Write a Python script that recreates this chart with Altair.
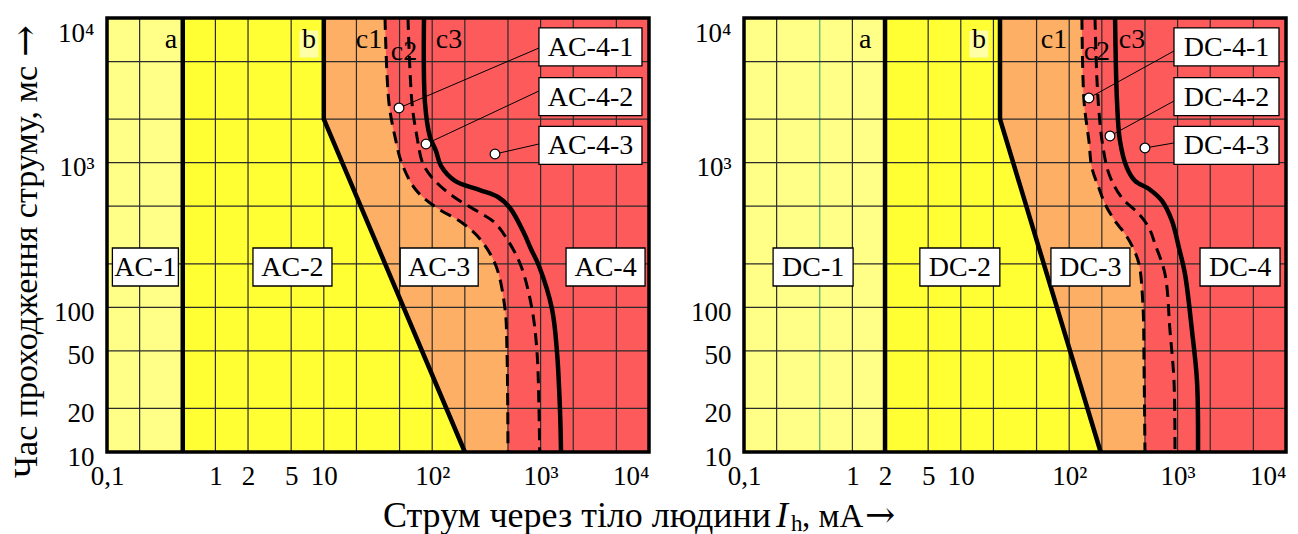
import altair as alt
import pandas as pd

FONT = "Liberation Serif"
ARROW_FONT = "DejaVu Serif"
LIGHT_YELLOW = "#FFFF88"
PALE_YELLOW = "#FFFFA8"
YELLOW = "#FFFF33"
ORANGE = "#FDAF66"
RED = "#FD5B5B"
GRID = "#2b2b2b"
GREEN_GRID = "#4caf7a"

# Shared log axes: current (mA) and duration (ms)
X_GRID = [0.1, 0.2, 0.5, 1, 2, 5, 10, 20, 50, 100, 200, 500, 1000, 2000, 5000, 10000]
Y_GRID = [10, 20, 50, 100, 200, 500, 1000, 2000, 5000, 10000]
X_TICKS = [0.1, 1, 2, 5, 10, 100, 1000, 10000]
Y_TICKS = [10, 20, 50, 100, 1000, 10000]

Y_TITLE = ["Час проходження струму, мс", "→"]
X_TITLE = ["Струм через тіло людини", "I", "h", ", мА", "→"]

# ---- AC (15-100 Hz) zones ----
AC_A = 0.5
AC_B_I = [10, 10, 200]
AC_B_T = [10000, 2000, 10]
AC_C1_I = [36.7, 39.9, 45.4, 52.7, 70.9, 110.7, 184.4, 276, 387.8, 469.4, 489.8, 500]
AC_C1_T = [10000, 2588, 1507, 980, 647, 486, 389, 297, 193, 97.5, 49, 10]
AC_C2_I = [59.8, 65.1, 72.4, 82.3, 106.1, 158.9, 259, 371.7, 489.8, 659.6, 833, 926.5, 966.6, 980]
AC_C2_T = [10000, 2588, 1507, 980, 748, 579, 463, 389, 297, 193, 97.5, 49, 19.5, 10]
AC_C3_I = [84.0, 85.8, 95.4, 108.4, 120.6, 162.3, 276, 404.6, 522, 688, 815, 966.6, 1274, 1417, 1510, 1543]
AC_C3_T = [10000, 2588, 1507, 1205, 949, 748, 647, 579, 486, 337, 253, 193, 97.5, 49, 19.5, 10]
AC_ZONES = ["AC-1", "AC-2", "AC-3", "AC-4"]
AC_ZONE_I = [0.226, 5.14, 116, 3973]
AC_SUBS = ["AC-4-1", "AC-4-2", "AC-4-3"]
AC_SUB_PT_I = [49.4, 87.7, 379.6]
AC_SUB_PT_T = [2388, 1346, 1148]
AC_LEAD_I = [966.6, 966.6, 966.6]
AC_LEAD_T = [6204, 3130, 1346]
AC_SUB_BOX_I = [2884, 2884, 2884]
AC_LETTERS = ["a", "b", "c1", "c2", "c3"]
AC_LETTER_I = [0.389, 7.3, 26.1, 55, 143]

# ---- DC zones ----
DC_A = 2
DC_B_I = [23, 23, 195]
DC_B_T = [10000, 2000, 10]
DC_C1_I = [131, 137, 152, 162, 188, 214, 265, 327, 380, 440, 480, 490, 500]
DC_C1_T = [10000, 2669, 1413, 919, 668, 518, 395, 322, 266, 200, 99, 40.6, 10]
DC_C2_I = [173, 180, 188, 201, 233, 307, 440, 545, 619, 765, 851, 926, 946]
DC_C2_T = [10000, 3847, 2277, 1413, 835, 570, 442, 354, 274, 170, 68.7, 31, 10]
DC_C3_I = [265, 276, 294, 341, 405, 545, 718, 888, 1030, 1170, 1358, 1510, 1543]
DC_C3_T = [10000, 2669, 1413, 919, 748, 658, 544, 395, 257, 170, 68.7, 31, 10]
DC_ZONES = ["DC-1", "DC-2", "DC-3", "DC-4"]
DC_ZONE_I = [0.434, 9.8, 157, 3767]
DC_SUBS = ["DC-4-1", "DC-4-2", "DC-4-3"]
DC_SUB_PT_I = [152, 237.9, 500]
DC_SUB_PT_T = [2800, 1529, 1264]
DC_LEAD_I = [926.5, 926.5, 926.5]
DC_LEAD_T = [5916, 2669, 1368]
DC_SUB_BOX_I = [2825, 2825, 2825]
DC_LETTERS = ["a", "b", "c1", "c2", "c3"]
DC_LETTER_I = [1.31, 14.7, 72.4, 180, 379]

ZONE_T = [190, 190, 190, 190]
SUB_BOX_T = [6310, 2865, 1315]
LETTER_T = [6607, 6607, 6607, 5460, 6607]

XS = alt.Scale(type="log", domain=[X_GRID[0], X_GRID[-1]], nice=False)
YS = alt.Scale(type="log", domain=[Y_GRID[0], Y_GRID[-1]], nice=False)

X_LABELS = ("datum.value < 0.5 ? '0,1' : datum.value >= 10000 ? '10⁴' : "
            "datum.value >= 1000 ? '10³' : datum.value >= 100 ? '10²' : '' + datum.value")
Y_LABELS = "datum.value >= 10000 ? '10⁴' : datum.value >= 1000 ? '10³' : '' + datum.value"

XAX = alt.Axis(
    values=X_TICKS, title=None, grid=False, ticks=False, domain=False,
    labelExpr=X_LABELS, labelFont=FONT, labelFontSize=27, labelColor="black",
    labelPadding=11, labelFlush=False, labelOverlap=False,
    labelAlign={"condition": {"test": "datum.value >= 10000", "value": "right"}, "value": "center"},
)
YAX = alt.Axis(
    values=Y_TICKS, title=None, grid=False, ticks=False, domain=False,
    labelExpr=Y_LABELS, labelFont=FONT, labelFontSize=27, labelColor="black",
    labelPadding=13, labelOverlap=False,
    labelOffset={"condition": {"test": "datum.value >= 10000", "value": 15}, "value": 5},
)

W, H = 542, 434


def box_path(w, h):
    return f"M{-w / 2},{-h / 2}H{w / 2}V{h / 2}H{-w / 2}Z"


def curve(i_vals, t_vals):
    return pd.DataFrame({"I": i_vals, "t": t_vals, "k": list(range(len(i_vals)))})


def xq(field="I"):
    return alt.X(f"{field}:Q", scale=XS, axis=XAX)


def yq(field="t"):
    return alt.Y(f"{field}:Q", scale=YS, axis=YAX)


def title_text(text, x, y, size, font=FONT, **kw):
    return alt.Chart(pd.DataFrame({"s": [0]})).mark_text(
        text=text, font=font, fontSize=size, color="black", **kw
    ).encode(x=alt.value(x), y=alt.value(y))


def panel(a_val, b, c1, c2, c3, zones, zone_i, zone_w, subs, sub_pt, lead, sub_box_i,
          letters, letter_i, sub_w, green_at=None, with_titles=False):
    frame_df = pd.DataFrame({"x0": [X_GRID[0]], "x1": [X_GRID[-1]],
                             "y0": [Y_GRID[0]], "y1": [Y_GRID[-1]]})
    base_red = alt.Chart(frame_df).mark_rect(color=RED).encode(
        x=xq("x0"), x2="x1", y=yq("y0"), y2="y1")

    c1_df = curve(*c1)
    orange = alt.Chart(c1_df).mark_area(
        orient="horizontal", interpolate="catmull-rom", color=ORANGE, clip=True
    ).encode(x=xq(), x2=alt.datum(X_GRID[0]), y=yq())

    b_df = curve(*b)
    yellow = alt.Chart(b_df).mark_area(orient="horizontal", color=YELLOW).encode(
        x=xq(), x2=alt.datum(X_GRID[0]), y=yq())

    ly_df = pd.DataFrame({"x0": [X_GRID[0]], "x1": [a_val],
                          "y0": [Y_GRID[0]], "y1": [Y_GRID[-1]]})
    light = alt.Chart(ly_df).mark_rect(color=LIGHT_YELLOW).encode(
        x=xq("x0"), x2="x1", y=yq("y0"), y2="y1")

    vg_df = pd.DataFrame({"I": X_GRID[1:-1]})
    if green_at is None:
        vcolor = alt.value(GRID)
    else:
        vcolor = alt.condition(f"datum.I == {green_at}", alt.value(GREEN_GRID), alt.value(GRID))
    vgrid = alt.Chart(vg_df).mark_rule(strokeWidth=1.2).encode(x=xq(), color=vcolor)
    hg_df = pd.DataFrame({"t": Y_GRID[1:-1]})
    hgrid = alt.Chart(hg_df).mark_rule(strokeWidth=1.2, color=GRID).encode(y=yq())

    a_line = alt.Chart(pd.DataFrame({"I": [a_val]})).mark_rule(
        color="black", strokeWidth=4.5).encode(x=xq())
    b_line = alt.Chart(b_df).mark_line(color="black", strokeWidth=4.5).encode(
        x=xq(), y=yq(), order="k:Q")
    c1_line = alt.Chart(c1_df).mark_line(
        color="black", strokeWidth=3, strokeDash=[12, 7], interpolate="catmull-rom"
    ).encode(x=xq(), y=yq(), order="k:Q")
    c2_line = alt.Chart(curve(*c2)).mark_line(
        color="black", strokeWidth=3, strokeDash=[12, 7], interpolate="catmull-rom"
    ).encode(x=xq(), y=yq(), order="k:Q")
    c3_line = alt.Chart(curve(*c3)).mark_line(
        color="black", strokeWidth=4.5, interpolate="catmull-rom"
    ).encode(x=xq(), y=yq(), order="k:Q")

    lead_df = pd.DataFrame({"I": sub_pt[0], "t": sub_pt[1], "I2": lead[0], "t2": lead[1]})
    leaders = alt.Chart(lead_df).mark_rule(color="black", strokeWidth=1).encode(
        x=xq(), y=yq(), x2="I2", y2="t2")
    markers = alt.Chart(lead_df).mark_point(
        shape="circle", size=95, filled=True, fill="white", stroke="black",
        strokeWidth=1.2, opacity=1
    ).encode(x=xq(), y=yq())

    lab_df = pd.DataFrame({
        "label": zones + subs,
        "I": zone_i + sub_box_i,
        "t": ZONE_T + SUB_BOX_T,
    })
    paths = [box_path(w, 38) for w in zone_w] + [box_path(sub_w, 38)] * len(subs)
    boxes = alt.Chart(lab_df).mark_point(
        size=4, filled=True, fill="white", stroke="black", strokeWidth=1.3, opacity=1
    ).encode(
        x=xq(), y=yq(),
        shape=alt.Shape("label:N", scale=alt.Scale(domain=zones + subs, range=paths), legend=None),
    )
    box_text = alt.Chart(lab_df).mark_text(
        font=FONT, fontSize=28, color="black", baseline="middle", dy=1
    ).encode(x=xq(), y=yq(), text="label:N")

    let_df = pd.DataFrame({"label": letters, "I": letter_i, "t": LETTER_T})
    # pale patch behind the "b" curve label
    b_patch = alt.Chart(let_df.iloc[[1]]).mark_point(
        shape=box_path(19, 27), size=4, filled=True, fill=PALE_YELLOW,
        strokeWidth=0, opacity=1
    ).encode(x=xq(), y=yq())
    letter_text = alt.Chart(let_df).mark_text(
        font=FONT, fontSize=28, color="black", baseline="middle", dy=-4
    ).encode(x=xq(), y=yq(), text="label:N")

    frame = alt.Chart(frame_df).mark_rect(
        fillOpacity=0, stroke="black", strokeWidth=3.5
    ).encode(x=xq("x0"), x2="x1", y=yq("y0"), y2="y1")

    layers = [base_red, orange, yellow, light, vgrid, hgrid, a_line, b_line,
              c1_line, c2_line, c3_line, leaders, markers, boxes, box_text,
              b_patch, letter_text, frame]

    if with_titles:
        layers += [
            # vertical title, reading bottom-to-top, with its arrow on top
            title_text(Y_TITLE[0], -80, 460, 34, angle=270, align="left", baseline="middle"),
            title_text(Y_TITLE[1], -80, 39, 38, font=ARROW_FONT, angle=270,
                       align="left", baseline="middle"),
            # horizontal title under both panels
            title_text(X_TITLE[0], 664, 509, 36, align="right", baseline="alphabetic"),
            title_text(X_TITLE[1], 669, 509, 36, fontStyle="italic", align="left",
                       baseline="alphabetic"),
            title_text(X_TITLE[2], 684, 513, 23, align="left", baseline="alphabetic"),
            title_text(X_TITLE[3], 695, 509, 33, align="left", baseline="alphabetic"),
            title_text(X_TITLE[4], 758, 509, 36, font=ARROW_FONT, align="left",
                       baseline="alphabetic"),
        ]

    return alt.layer(*layers).properties(width=W, height=H)


ac = panel(
    AC_A, (AC_B_I, AC_B_T), (AC_C1_I, AC_C1_T), (AC_C2_I, AC_C2_T), (AC_C3_I, AC_C3_T),
    AC_ZONES, AC_ZONE_I, [66, 79, 78, 79], AC_SUBS, (AC_SUB_PT_I, AC_SUB_PT_T),
    (AC_LEAD_I, AC_LEAD_T), AC_SUB_BOX_I, AC_LETTERS, AC_LETTER_I, 103,
    with_titles=True,
)
dc = panel(
    DC_A, (DC_B_I, DC_B_T), (DC_C1_I, DC_C1_T), (DC_C2_I, DC_C2_T), (DC_C3_I, DC_C3_T),
    DC_ZONES, DC_ZONE_I, [80, 80, 79, 80], DC_SUBS, (DC_SUB_PT_I, DC_SUB_PT_T),
    (DC_LEAD_I, DC_LEAD_T), DC_SUB_BOX_I, DC_LETTERS, DC_LETTER_I, 105,
    green_at=0.5,
)

chart = alt.hconcat(ac, dc, spacing=95, bounds="flush").resolve_scale(
    shape="independent"
).properties(
    padding={"left": 8, "top": 9, "right": 0, "bottom": 0}
).configure(background="white").configure_view(strokeWidth=0)

chart.save("out.html", embed_options={"renderer": "svg", "actions": False})
